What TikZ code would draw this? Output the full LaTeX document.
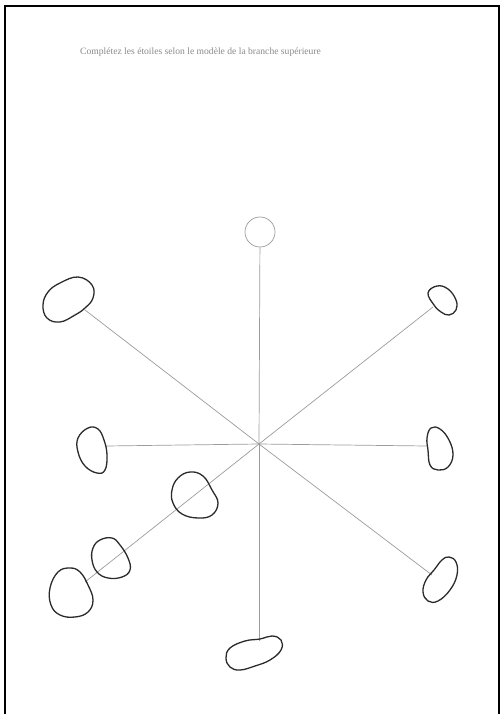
\documentclass[tikz,border=0pt]{standalone}
\usepackage{fontspec}
\setmainfont{Liberation Serif}
\usepackage{tikz}
\usepackage{xcolor}
\usetikzlibrary{positioning,calc}
\definecolor{Ink}{HTML}{2B2B2B}
\definecolor{Spoke}{HTML}{9C9C9C}
\definecolor{Note}{HTML}{8A8A8A}

\begin{document}
\begin{tikzpicture}[x=1pt,y=-1pt,
  spoke/.style={Spoke,line width=0.7pt},
  blob/.style={Ink,line width=1.3pt,line join=round},
  model/.style={draw=Spoke,line width=0.7pt,circle,minimum size=30pt,inner sep=0pt}]
  \useasboundingbox (0,0) rectangle (502,714);
  \fill[white] (0,0) rectangle (502,714);
  \draw[black,line width=2pt] (5,714) -- (5,6) -- (499,6) -- (499,714);
  \node[anchor=base west,inner sep=0pt,text=Note,font=\fontsize{9.6}{11}\selectfont] (title) at (80,55)
    {Complétez les étoiles selon le modèle de la branche supérieure};

  % star centre and branch ends
  \coordinate (c) at (259,444);
  \node[model] (top) at (260,232) {};
  \coordinate (ul) at (85,310);
  \coordinate (ur) at (433,307);
  \coordinate (l) at (106,446);
  \coordinate (r) at (427,446);
  \coordinate (dr) at (432,575);
  \coordinate (d) at (259,641);
  \coordinate (dl) at (85,582);

  \draw[spoke] (c) -- (top);
  \foreach \e in {ul,ur,l,r,dr,d,dl}
    \draw[spoke] (c) -- (\e);

  % hand drawn blobs
  \draw[blob] plot[smooth cycle,tension=0.7] coordinates
    {(60,283) (78,277) (92,285) (93,298) (85,308) (75,315) (60,322) (47,318) (43,305) (48,292)};
  \draw[blob] plot[smooth cycle,tension=0.7] coordinates
    {(428,293) (437,286) (448,289) (456,300) (456,310) (449,315) (441,312) (434,305)};
  \draw[blob] plot[smooth cycle,tension=0.7] coordinates
    {(431,428) (440,429) (449,440) (453,455) (448,467) (438,470) (430,465) (428,450) (427,438)};
  \draw[blob] plot[smooth cycle,tension=0.7] coordinates
    {(449,557) (456,562) (457,575) (450,590) (438,601) (428,601) (423,592) (426,580) (434,570) (442,560)};
  \draw[blob] plot[smooth cycle,tension=0.7] coordinates
    {(230,648) (245,641) (260,639) (272,636) (281,640) (281,650) (270,660) (255,666) (240,670) (230,667) (226,658)};
  \draw[blob] plot[smooth cycle,tension=0.7] coordinates
    {(88,428) (98,429) (104,440) (107,455) (105,470) (97,473) (85,466) (78,452) (78,438)};
  \draw[blob] plot[smooth cycle,tension=0.7] coordinates
    {(178,478) (190,472) (203,476) (212,490) (218,503) (212,515) (198,518) (182,514) (173,503) (172,490)};
  \draw[blob] plot[smooth cycle,tension=0.7] coordinates
    {(100,540) (112,538) (120,545) (128,558) (130,570) (122,577) (108,578) (97,572) (92,560) (93,548)};
  \draw[blob] plot[smooth cycle,tension=0.7] coordinates
    {(58,572) (70,568) (80,572) (88,585) (93,600) (88,612) (75,617) (60,615) (51,605) (50,588)};
\end{tikzpicture}
\end{document}
